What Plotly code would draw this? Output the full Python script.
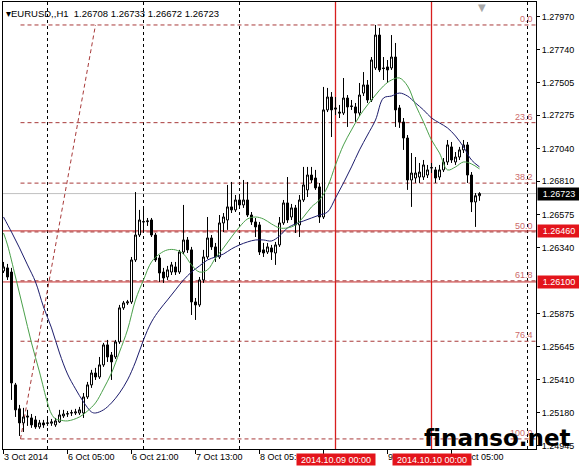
import plotly.graph_objects as go

# ---------------- data ----------------
opens = [1.26177, 1.26199, 1.26170, 1.25374, 1.25205, 1.25106, 1.25155, 1.25141, 1.25127, 1.25078,
         1.25106, 1.25106, 1.25104, 1.25092, 1.25113, 1.25155, 1.25169, 1.25176, 1.25176, 1.25176,
         1.25176, 1.25289, 1.25374, 1.25458, 1.25430, 1.25515, 1.25656, 1.25585, 1.25571, 1.25677,
         1.25917, 1.25952, 1.25959, 1.26255, 1.26431, 1.26523, 1.26525, 1.26537, 1.26431, 1.26269,
         1.26170, 1.26135, 1.26170, 1.26206, 1.26170, 1.26311, 1.26396, 1.26326, 1.25959, 1.25938,
         1.26114, 1.26276, 1.26410, 1.26347, 1.26276, 1.26516, 1.26537, 1.26629, 1.26608, 1.26678,
         1.26643, 1.26678, 1.26572, 1.26523, 1.26502, 1.26326, 1.26311, 1.26340, 1.26304, 1.26361,
         1.26516, 1.26657, 1.26558, 1.26622, 1.26502, 1.26678, 1.26749, 1.26854, 1.26833, 1.26770,
         1.26558, 1.27313, 1.27404, 1.27327, 1.27298, 1.27291, 1.27397, 1.27341, 1.27334, 1.27291,
         1.27432, 1.27489, 1.27383, 1.27609, 1.27841, 1.27609, 1.27616, 1.27609, 1.27686, 1.27327,
         1.27228, 1.27115, 1.26819, 1.26833, 1.26840, 1.26840, 1.26854, 1.26904, 1.26890, 1.26840,
         1.26890, 1.26946, 1.27052, 1.26946, 1.26981, 1.27031, 1.27066, 1.26854, 1.26664, 1.26708]
highs = [1.26241, 1.26227, 1.26199, 1.25388, 1.25233, 1.25212, 1.25198, 1.25169, 1.25155, 1.25127,
         1.25127, 1.25134, 1.25134, 1.25141, 1.25198, 1.25198, 1.25190, 1.25198, 1.25205, 1.25219,
         1.25317, 1.25395, 1.25480, 1.25494, 1.25571, 1.25670, 1.25691, 1.25606, 1.25691, 1.25938,
         1.25966, 1.25973, 1.26276, 1.26734, 1.26608, 1.26622, 1.26551, 1.26551, 1.26445, 1.26290,
         1.26199, 1.26213, 1.26241, 1.26241, 1.26326, 1.26643, 1.26417, 1.26347, 1.25987, 1.26135,
         1.26326, 1.26558, 1.26431, 1.26375, 1.26572, 1.26586, 1.26784, 1.26805, 1.26713, 1.26713,
         1.26819, 1.26805, 1.26593, 1.26551, 1.26523, 1.26375, 1.26375, 1.26361, 1.26382, 1.26558,
         1.26678, 1.26840, 1.26650, 1.26643, 1.26713, 1.26911, 1.26911, 1.26911, 1.26890, 1.26798,
         1.27475, 1.27468, 1.27439, 1.27404, 1.27348, 1.27538, 1.27418, 1.27383, 1.27362, 1.27503,
         1.27580, 1.27524, 1.27686, 1.27912, 1.27891, 1.27686, 1.27665, 1.27841, 1.27785, 1.27348,
         1.27256, 1.27136, 1.27009, 1.26981, 1.26939, 1.26960, 1.26925, 1.26939, 1.26911, 1.26925,
         1.26974, 1.27101, 1.27087, 1.27016, 1.27052, 1.27101, 1.27087, 1.26875, 1.26727, 1.26733]
lows = [1.26163, 1.26114, 1.25268, 1.25148, 1.25014, 1.25042, 1.25085, 1.25071, 1.25064, 1.25064,
        1.25071, 1.25085, 1.25085, 1.25078, 1.25106, 1.25141, 1.25148, 1.25155, 1.25162, 1.25162,
        1.25141, 1.25275, 1.25353, 1.25409, 1.25416, 1.25501, 1.25536, 1.25409, 1.25557, 1.25663,
        1.25903, 1.25938, 1.25945, 1.26241, 1.26417, 1.26445, 1.26495, 1.26417, 1.26241, 1.26100,
        1.26093, 1.26114, 1.26149, 1.26149, 1.26156, 1.26297, 1.26304, 1.25867, 1.25832, 1.25924,
        1.26093, 1.26262, 1.26326, 1.26241, 1.26262, 1.26452, 1.26467, 1.26586, 1.26593, 1.26622,
        1.26622, 1.26558, 1.26502, 1.26417, 1.26290, 1.26276, 1.26297, 1.26255, 1.26220, 1.26347,
        1.26502, 1.26516, 1.26537, 1.26445, 1.26417, 1.26664, 1.26699, 1.26798, 1.26749, 1.26516,
        1.26544, 1.27298, 1.27122, 1.27277, 1.27256, 1.27277, 1.27193, 1.27313, 1.27228, 1.27270,
        1.27411, 1.27362, 1.27369, 1.27595, 1.27580, 1.27524, 1.27503, 1.27595, 1.27193, 1.27186,
        1.27031, 1.26749, 1.26629, 1.26798, 1.26798, 1.26819, 1.26833, 1.26868, 1.26798, 1.26819,
        1.26875, 1.26925, 1.26939, 1.26925, 1.26960, 1.27009, 1.26798, 1.26593, 1.26488, 1.26672]
closes = [1.26206, 1.26135, 1.25388, 1.25198, 1.25106, 1.25148, 1.25148, 1.25092, 1.25078, 1.25106,
          1.25092, 1.25104, 1.25113, 1.25120, 1.25162, 1.25169, 1.25171, 1.25178, 1.25183, 1.25198,
          1.25289, 1.25374, 1.25458, 1.25430, 1.25515, 1.25656, 1.25571, 1.25536, 1.25677, 1.25917,
          1.25952, 1.25959, 1.26255, 1.26431, 1.26537, 1.26525, 1.26530, 1.26431, 1.26255, 1.26163,
          1.26128, 1.26185, 1.26220, 1.26170, 1.26311, 1.26396, 1.26326, 1.25959, 1.25938, 1.26114,
          1.26276, 1.26410, 1.26347, 1.26276, 1.26516, 1.26558, 1.26629, 1.26608, 1.26678, 1.26643,
          1.26678, 1.26572, 1.26523, 1.26488, 1.26311, 1.26304, 1.26347, 1.26311, 1.26361, 1.26516,
          1.26657, 1.26537, 1.26622, 1.26502, 1.26678, 1.26784, 1.26854, 1.26819, 1.26763, 1.26558,
          1.27313, 1.27404, 1.27313, 1.27320, 1.27291, 1.27397, 1.27334, 1.27338, 1.27291, 1.27418,
          1.27489, 1.27383, 1.27665, 1.27841, 1.27595, 1.27605, 1.27595, 1.27686, 1.27313, 1.27228,
          1.27115, 1.26819, 1.26868, 1.26868, 1.26875, 1.26925, 1.26890, 1.26906, 1.26833, 1.26890,
          1.26946, 1.27066, 1.26960, 1.26981, 1.27031, 1.27066, 1.26854, 1.26664, 1.26708, 1.26723]
bars = list(range(len(opens)))

ma_fast_bars = [0, 1, 3, 5, 7, 9, 11, 12, 13, 14, 16, 19, 21, 23, 25, 27, 29, 31, 33, 35,
                37, 39, 41, 43, 45, 47, 49, 51, 53, 55, 57, 59, 61, 63, 65, 67, 69, 71, 73, 75,
                77, 79, 81, 83, 85, 87, 89, 91, 93, 95, 97, 99, 101, 103, 105, 107, 109, 111, 113, 115,
                117, 119]
ma_fast = [1.26445, 1.26361, 1.26135, 1.25903, 1.25670, 1.25465, 1.25247, 1.25169, 1.25134, 1.25127,
           1.25120, 1.25148, 1.25190, 1.25247, 1.25346, 1.25458, 1.25606, 1.25762, 1.25973, 1.26114,
           1.26241, 1.26297, 1.26326, 1.26326, 1.26297, 1.26220, 1.26170, 1.26185, 1.26269, 1.26340,
           1.26417, 1.26488, 1.26544, 1.26558, 1.26544, 1.26509, 1.26481, 1.26481, 1.26502, 1.26558,
           1.26629, 1.26678, 1.26770, 1.26925, 1.27066, 1.27172, 1.27270, 1.27348, 1.27418, 1.27482,
           1.27524, 1.27538, 1.27482, 1.27348, 1.27228, 1.27101, 1.27009, 1.26890, 1.26911, 1.26946,
           1.26932, 1.26897]

ma_slow_bars = [0, 2, 4, 6, 8, 10, 12, 14, 16, 18, 20, 22, 23, 25, 27, 29, 31, 33, 35, 37,
                39, 41, 43, 45, 47, 49, 51, 53, 55, 57, 59, 61, 63, 65, 67, 69, 71, 73, 75, 77,
                79, 81, 83, 85, 87, 89, 91, 93, 95, 97, 99, 101, 103, 105, 107, 109, 111, 113, 115, 117,
                119]
ma_slow = [1.26558, 1.26452, 1.26340, 1.26220, 1.26100, 1.25924, 1.25776, 1.25599, 1.25451, 1.25346,
           1.25254, 1.25183, 1.25176, 1.25198, 1.25247, 1.25317, 1.25409, 1.25536, 1.25691, 1.25818,
           1.25903, 1.25973, 1.26044, 1.26114, 1.26170, 1.26213, 1.26255, 1.26276, 1.26297, 1.26333,
           1.26361, 1.26382, 1.26396, 1.26396, 1.26389, 1.26424, 1.26481, 1.26509, 1.26530, 1.26551,
           1.26572, 1.26593, 1.26692, 1.26798, 1.26911, 1.27031, 1.27136, 1.27242, 1.27397, 1.27411,
           1.27432, 1.27411, 1.27362, 1.27313, 1.27256, 1.27221, 1.27186, 1.27129, 1.27052, 1.26960,
           1.26911]

price_ticks = [1.27970, 1.27740, 1.27505, 1.27275, 1.27040, 1.26810, 1.26575, 1.26340,
               1.25875, 1.25645, 1.25410, 1.25180, 1.24945]
time_tick_bars = [0, 16, 32, 48, 64, 80, 96, 112]
time_tick_text = ["3 Oct 2014", "6 Oct 05:00", "6 Oct 21:00", "7 Oct 13:00",
                  "8 Oct 05:00", "8 Oct 21:00", "9 Oct 13:00", "10 Oct 05:00"]
day_start_bars = [11, 35, 59, 83, 107, 131]
vline_bars = [83, 107]
vline_text = ["2014.10.09 00:00", "2014.10.10 00:00"]
hline_prices = [1.26460, 1.26100]
last_price = 1.26723
fib_low, fib_high = 1.24993, 1.27912
fib_anchor_bars = [4.25, 23.0]
fib_levels = [0.0, 23.6, 38.2, 50.0, 61.8, 76.4, 100.0]
title_symbol = "EURUSD,,H1"
title_quote = ["1.26708", "1.26733", "1.26672", "1.26723"]
watermark = "finanso.net"

# ---------------- styling ----------------
X_RANGE = [-0.125, 133.125]
Y_RANGE = [1.24922, 1.28074]
FONT = "Liberation Sans, Arial, sans-serif"
FS = 9
RED_LINE = "#c42a2a"
RED_VLINE = "#d81e1e"
RED_BOX = "#e3141b"
FIB_COL = "#a83a3a"
FIB_TXT = "#cc6a6a"

fig = go.Figure()

fig.add_trace(go.Candlestick(
    x=bars, open=opens, high=highs, low=lows, close=closes,
    increasing=dict(line=dict(color="black", width=1), fillcolor="white"),
    decreasing=dict(line=dict(color="black", width=1), fillcolor="black"),
    whiskerwidth=0, hoverinfo="skip", showlegend=False))

fig.add_trace(go.Scatter(x=ma_slow_bars, y=ma_slow, mode="lines",
                         line=dict(color="#1c1c6c", width=1, shape="spline"),
                         hoverinfo="skip", showlegend=False))
fig.add_trace(go.Scatter(x=ma_fast_bars, y=ma_fast, mode="lines",
                         line=dict(color="#4aa04a", width=1, shape="spline"),
                         hoverinfo="skip", showlegend=False))

shapes = []
for b in day_start_bars:
    if b in vline_bars:
        continue
    shapes.append(dict(type="line", xref="x", yref="paper", x0=b, x1=b, y0=0, y1=1,
                       line=dict(color="black", width=1, dash="3px,3px"), layer="below"))
shapes.append(dict(type="line", xref="paper", yref="y", x0=0, x1=1, y0=last_price, y1=last_price,
                   line=dict(color="#c0c0c0", width=1), layer="below"))
span = fib_high - fib_low
for lv in fib_levels:
    p = fib_high - span * lv / 100.0
    shapes.append(dict(type="line", xref="x", yref="y", x0=fib_anchor_bars[0], x1=X_RANGE[1],
                       y0=p, y1=p, line=dict(color=FIB_COL, width=1, dash="4px,3px"), layer="below"))
shapes.append(dict(type="line", xref="x", yref="y", x0=fib_anchor_bars[0], x1=fib_anchor_bars[1],
                   y0=fib_low, y1=fib_high, line=dict(color=FIB_COL, width=1, dash="4px,3px"),
                   layer="below"))
for p in hline_prices:
    shapes.append(dict(type="line", xref="paper", yref="y", x0=0, x1=1, y0=p, y1=p,
                       line=dict(color=RED_LINE, width=1), layer="below"))
for b in vline_bars:
    shapes.append(dict(type="line", xref="x", yref="paper", x0=b, x1=b, y0=0, y1=1,
                       line=dict(color=RED_VLINE, width=1.3), layer="below"))

annotations = []
NB = "\u00a0"
title_text = title_symbol + NB + NB + " ".join(title_quote)
annotations.append(dict(xref="paper", yref="paper", x=0, y=1, xanchor="left", yanchor="top",
                        xshift=1, yshift=-4, text="▾" + title_text, showarrow=False,
                        font=dict(family=FONT, size=9.5, color="black")))
for b, t in zip(time_tick_bars, time_tick_text):
    annotations.append(dict(xref="x", yref="paper", x=b, y=0, xanchor="left", yanchor="top",
                            xshift=-2, yshift=-1, text=t, showarrow=False,
                            font=dict(family=FONT, size=FS, color="black")))
for b, t in zip(vline_bars, vline_text):
    annotations.append(dict(xref="x", yref="paper", x=b, y=0, xanchor="center", yanchor="top",
                            yshift=-4, text=t, showarrow=False, bgcolor=RED_BOX, borderpad=0,
                            width=78, height=11,
                            font=dict(family=FONT, size=FS, color="white")))
for lv in fib_levels:
    p = fib_high - span * lv / 100.0
    annotations.append(dict(xref="paper", yref="y", x=1, y=p, xanchor="right", yanchor="bottom",
                            xshift=-1, yshift=-1, text=f"{lv:.1f}", showarrow=False,
                            font=dict(family=FONT, size=FS, color=FIB_TXT)))
for p in hline_prices:
    annotations.append(dict(xref="paper", yref="y", x=1, y=p, xanchor="left", yanchor="middle",
                            xshift=1, text=f"{p:.5f}", showarrow=False, bgcolor=RED_BOX,
                            width=42, height=12, align="center", borderpad=0,
                            font=dict(family=FONT, size=FS, color="white")))
annotations.append(dict(xref="paper", yref="y", x=1, y=last_price, xanchor="left", yanchor="middle",
                        xshift=1, text=f"{last_price:.5f}", showarrow=False, bgcolor="black",
                        width=42, height=12, align="center", borderpad=0,
                        font=dict(family=FONT, size=FS, color="white")))
annotations.append(dict(xref="paper", yref="paper", x=0.8987, y=1, xanchor="center", yanchor="top",
                        yshift=2, text="▼", showarrow=False,
                        font=dict(family="DejaVu Sans", size=10, color="#a8a8a8")))
annotations.append(dict(xref="paper", yref="paper", x=0.786, y=0, xanchor="left", yanchor="bottom",
                        yshift=-4, text="<b>" + watermark + "</b>", showarrow=False,
                        font=dict(family="DejaVu Sans", size=23, color="black")))

fig.update_layout(
    width=579, height=468,
    margin=dict(l=3, r=43, t=2, b=19),
    paper_bgcolor="white", plot_bgcolor="white",
    showlegend=False,
    font=dict(family=FONT, size=FS, color="black"),
    shapes=shapes, annotations=annotations,
    hovermode=False,
    boxgap=0.5, boxgroupgap=0,
)
fig.update_xaxes(range=X_RANGE, showgrid=False, zeroline=False, showline=True,
                 linecolor="black", linewidth=1, mirror=True,
                 tickvals=time_tick_bars, ticktext=[""] * len(time_tick_bars),
                 ticks="outside", ticklen=4, tickcolor="black",
                 rangeslider=dict(visible=False))
fig.update_yaxes(range=Y_RANGE, side="right", showgrid=False, zeroline=False, showline=True,
                 linecolor="black", linewidth=1, mirror=True,
                 tickvals=price_ticks, ticktext=[f"{v:.5f}" for v in price_ticks],
                 ticks="outside", ticklen=3, tickcolor="black",
                 tickfont=dict(family=FONT, size=FS, color="black"))

fig.write_html("out.html", config={"displayModeBar": False, "staticPlot": True},
               post_script="document.body.style.margin='0px';document.body.style.overflow='hidden';")
